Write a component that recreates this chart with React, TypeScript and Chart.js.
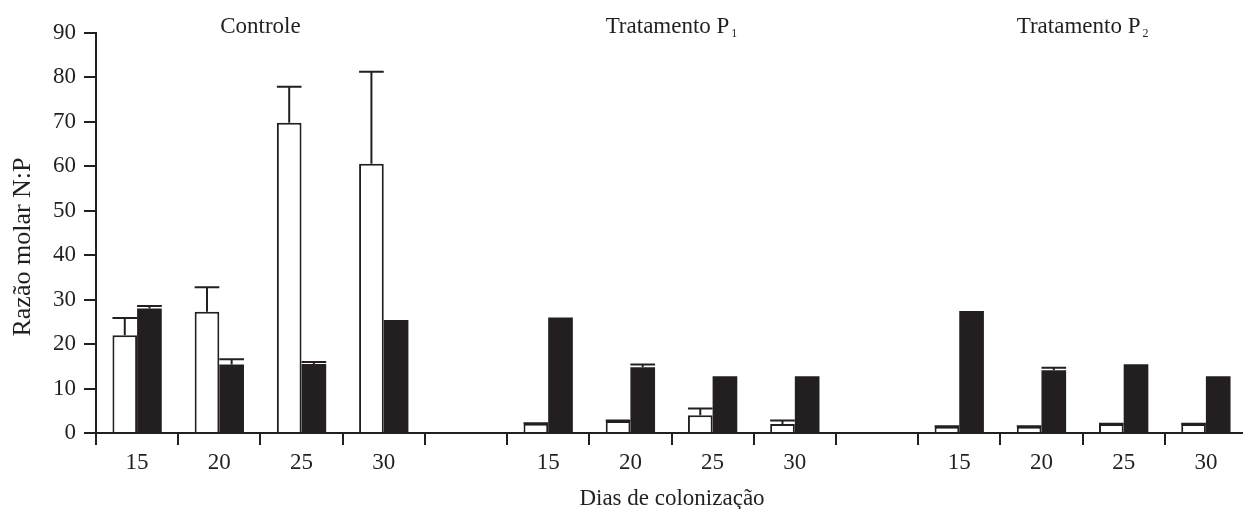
import React, { useEffect, useRef } from "react";
import { Chart, registerables } from "chart.js";

Chart.register(...registerables);

const categories = ["15", "20", "25", "30", "", "15", "20", "25", "30", "", "15", "20", "25", "30"];
const groupTitles = [
  { text: "Controle", sub: "", from: 0, to: 3 },
  { text: "Tratamento P", sub: "1", from: 5, to: 8 },
  { text: "Tratamento P", sub: "2", from: 10, to: 13 },
];
const whiteValues = [22, 27.3, 69.8, 60.6, null, 2.1, 2.7, 4.0, 2.0, null, 1.4, 1.4, 2.0, 2.0];
const whiteSD = [3.9, 5.5, 8.1, 20.7, null, 0.1, 0.1, 1.5, 0.8, null, 0.1, 0.1, 0.1, 0.1];
const blackValues = [28.0, 15.4, 15.5, 25.4, null, 26.0, 14.8, 12.75, 12.75, null, 27.45, 14.1, 15.45, 12.75];
const blackSD = [0.6, 1.2, 0.5, 0, null, 0, 0.6, 0, 0, null, 0, 0.6, 0, 0];
const yTicks = [0, 10, 20, 30, 40, 50, 60, 70, 80, 90];

const INK = "#231f20";
const FONT = "'Liberation Serif', 'Times New Roman', serif";

export default function App() {
  const ref = useRef<HTMLCanvasElement | null>(null);

  useEffect(() => {
    const canvas = ref.current;
    if (!canvas) return;
    const sds = [whiteSD, blackSD];

    const errorPlugin = {
      id: "errorBars",
      afterDatasetsDraw(chart: any) {
        const ctx = chart.ctx;
        const y = chart.scales.y;
        ctx.save();
        ctx.strokeStyle = INK;
        ctx.lineWidth = 2;
        chart.data.datasets.forEach((ds: any, i: number) => {
          const meta = chart.getDatasetMeta(i);
          meta.data.forEach((bar: any, j: number) => {
            const v = ds.data[j];
            const sd = sds[i][j];
            if (v == null || sd == null || sd <= 0) return;
            const top = y.getPixelForValue(v + sd);
            const base = y.getPixelForValue(v);
            const half = bar.width / 2;
            ctx.beginPath();
            ctx.moveTo(bar.x, base);
            ctx.lineTo(bar.x, top);
            ctx.moveTo(bar.x - half, top);
            ctx.lineTo(bar.x + half, top);
            ctx.stroke();
          });
        });
        ctx.restore();
      },
    };

    const textPlugin = {
      id: "texts",
      afterDraw(chart: any) {
        const ctx = chart.ctx;
        const x = chart.scales.x;
        const area = chart.chartArea;
        ctx.save();
        ctx.fillStyle = INK;
        ctx.textBaseline = "alphabetic";
        groupTitles.forEach((g) => {
          const half = (x.getPixelForValue(1) - x.getPixelForValue(0)) / 2;
          const cx = (x.getPixelForValue(g.from) - half + x.getPixelForValue(g.to) + half) / 2;
          ctx.font = `23px ${FONT}`;
          const w = ctx.measureText(g.text).width;
          ctx.font = `12px ${FONT}`;
          const ws = g.sub ? ctx.measureText(g.sub).width + 2 : 0;
          const start = cx - (w + ws) / 2;
          ctx.font = `23px ${FONT}`;
          ctx.textAlign = "left";
          ctx.fillText(g.text, start, 33);
          if (g.sub) {
            ctx.font = `12px ${FONT}`;
            ctx.fillText(g.sub, start + w + 2, 37);
          }
        });
        ctx.font = `23px ${FONT}`;
        ctx.textAlign = "center";
        ctx.fillText("Dias de colonização", 672, 505);
        ctx.translate(30, 247);
        ctx.rotate(-Math.PI / 2);
        ctx.font = `26px ${FONT}`;
        ctx.fillText("Razão molar N:P", 0, 0);
        ctx.restore();
      },
    };

    const chart = new Chart(canvas, {
      type: "bar",
      data: {
        labels: categories,
        datasets: [
          {
            label: "white",
            data: whiteValues,
            backgroundColor: "#ffffff",
            borderColor: INK,
            borderWidth: 2,
            categoryPercentage: 0.6,
            barPercentage: 1,
          },
          {
            label: "black",
            data: blackValues,
            backgroundColor: INK,
            borderColor: INK,
            borderWidth: 0,
            categoryPercentage: 0.6,
            barPercentage: 1,
          },
        ],
      },
      options: {
        responsive: false,
        animation: false,
        devicePixelRatio: 1,
        layout: { padding: { top: 33, left: 0, right: 0, bottom: 0 } },
        plugins: { legend: { display: false }, tooltip: { enabled: false }, title: { display: false } },
        scales: {
          x: {
            afterFit: (s: any) => {
              s.height = 76;
            },
            grid: {
              offset: true,
              drawOnChartArea: false,
              drawTicks: true,
              tickLength: 12,
              color: INK,
              lineWidth: 2,
            },
            border: { display: true, color: INK, width: 2 },
            ticks: {
              color: INK,
              font: { family: FONT, size: 23 },
              padding: 4,
              maxRotation: 0,
              autoSkip: false,
            },
          },
          y: {
            min: 0,
            max: 90,
            afterFit: (s: any) => {
              s.width = 96;
            },
            afterBuildTicks: (s: any) => {
              s.ticks = yTicks.map((v) => ({ value: v }));
            },
            grid: {
              drawOnChartArea: false,
              drawTicks: true,
              tickLength: 12,
              color: INK,
              lineWidth: 2,
            },
            border: { display: true, color: INK, width: 2 },
            ticks: {
              color: INK,
              font: { family: FONT, size: 23 },
              padding: 8,
            },
          },
        },
      },
      plugins: [errorPlugin, textPlugin],
    } as any);

    return () => chart.destroy();
  }, []);

  return (
    <div
      style={{
        position: "fixed",
        left: 0,
        top: 0,
        width: 1243,
        height: 509,
        overflow: "hidden",
        background: "#ffffff",
      }}
    >
      <canvas ref={ref} width={1247} height={509} style={{ display: "block", width: 1247, height: 509 }} />
    </div>
  );
}
